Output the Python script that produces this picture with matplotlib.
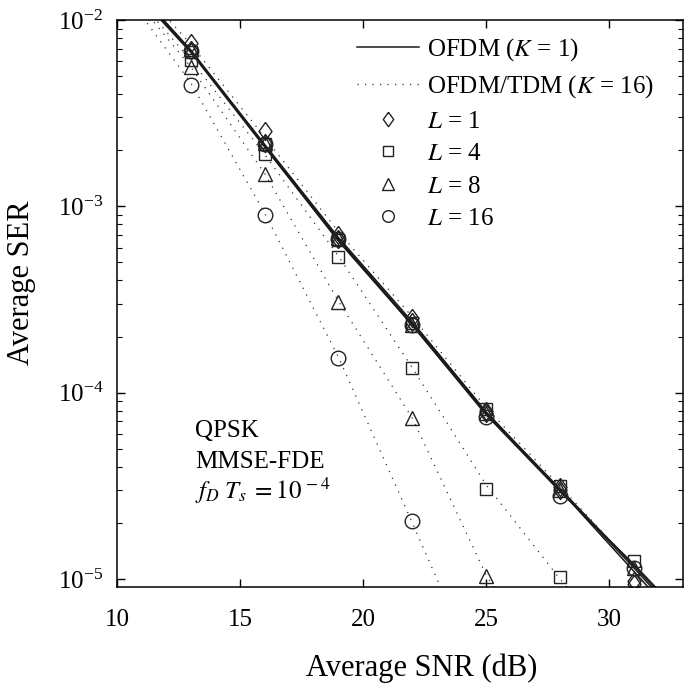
import numpy as np
import matplotlib
matplotlib.use('Agg')
import matplotlib.pyplot as plt

plt.rcParams['font.family'] = 'Liberation Serif'
plt.rcParams['mathtext.fontset'] = 'stix'

# analysis curves (lines), SNR grid in dB
snr_line = [10, 13, 16, 19, 22, 25, 28, 31, 34]
ofdm_l1 = [1.9e-2, 6.9e-3, 2.15e-3, 6.8e-4, 2.4e-4, 7.9e-5, 3.0e-5, 1.1e-5, 4.0e-6]
ofdm_l4 = [1.85e-2, 6.8e-3, 2.1e-3, 6.6e-4, 2.35e-4, 7.8e-5, 3.05e-5, 1.18e-5, 4.4e-6]
ofdm_l8 = [1.85e-2, 6.8e-3, 2.12e-3, 6.7e-4, 2.3e-4, 7.7e-5, 3.0e-5, 1.15e-5, 4.2e-6]
ofdm_l16 = [1.8e-2, 6.7e-3, 2.08e-3, 6.5e-4, 2.3e-4, 7.6e-5, 2.95e-5, 1.2e-5, 4.6e-6]

tdm_l1 = [2.05e-2, 7.4e-3, 2.35e-3, 7.3e-4, 2.55e-4, 8.3e-5, 3.15e-5, 1.17e-5, 4.3e-6]
tdm_l4 = [1.75e-2, 6.1e-3, 1.9e-3, 5.4e-4, 1.36e-4, 3.2e-5, 1.0e-5, 3.6e-6, 1.2e-6]
tdm_l8 = [1.7e-2, 5.6e-3, 1.5e-3, 3.1e-4, 7.3e-5, 1.05e-5, 2.4e-6, 4.0e-7, 6.0e-8]
tdm_l16 = [1.6e-2, 4.6e-3, 9.2e-4, 1.55e-4, 2.0e-5, 2.5e-6, 3.0e-7, 3.0e-8, 3.0e-9]

# simulation points (markers)
snr_sim = [13, 16, 19, 22, 25, 28, 31]
sim_ofdm_l1 = [6.9e-3, 2.2e-3, 6.7e-4, 2.4e-4, 7.8e-5, 3.0e-5, 9.8e-6]
sim_ofdm_l4 = [6.7e-3, 2.15e-3, 6.6e-4, 2.35e-4, 8.2e-5, 3.15e-5, 1.25e-5]
sim_ofdm_l8 = [7.0e-3, 2.2e-3, 6.8e-4, 2.3e-4, 7.8e-5, 3.0e-5, 1.15e-5]
sim_ofdm_l16 = [6.8e-3, 2.15e-3, 6.7e-4, 2.3e-4, 7.4e-5, 2.8e-5, 1.14e-5]

sim_tdm_l1 = [7.5e-3, 2.55e-3, 7.0e-4, 2.5e-4, 8.0e-5, 3.1e-5, 9.4e-6]
sim_tdm_l4 = [6.1e-3, 1.9e-3, 5.35e-4, 1.36e-4, 3.05e-5, 1.02e-5, np.nan]
sim_tdm_l8 = [5.6e-3, 1.5e-3, 3.05e-4, 7.3e-5, 1.04e-5, np.nan, np.nan]
sim_tdm_l16 = [4.5e-3, 9.0e-4, 1.53e-4, 2.04e-5, np.nan, np.nan, np.nan]

diamond = [(0, 1), (0.72, 0), (0, -1), (-0.72, 0), (0, 1)]
markers = [diamond, 's', '^', 'o']
msizes = [13, 8.5, 10.5, 10.5]
labels_L = ['$L$ = 1', '$L$ = 4', '$L$ = 8', '$L$ = 16']

fig = plt.figure(figsize=(6.85, 6.83), dpi=100)
ax = fig.add_axes([0.1708, 0.1406, 0.8262, 0.8301])

dot = (0, (1, 5))
for y in [ofdm_l1, ofdm_l4, ofdm_l8, ofdm_l16]:
    ax.semilogy(snr_line, y, color='#1a1a1a', lw=1.1)
for y in [tdm_l1, tdm_l4, tdm_l8, tdm_l16]:
    ax.semilogy(snr_line, y, color='#333333', lw=0.9, linestyle=dot)

sims_ofdm = [sim_ofdm_l1, sim_ofdm_l4, sim_ofdm_l8, sim_ofdm_l16]
sims_tdm = [sim_tdm_l1, sim_tdm_l4, sim_tdm_l8, sim_tdm_l16]
for i in range(4):
    for y in [sims_ofdm[i], sims_tdm[i]]:
        ax.semilogy(snr_sim, y, linestyle='none', marker=markers[i], ms=msizes[i],
                    mfc='none', mec='#222222', mew=1.0)

# legend handles
h = []
h.append(ax.plot([], [], color='#1a1a1a', lw=1.1, label='OFDM ($K$ = 1)')[0])
h.append(ax.plot([], [], color='#333333', lw=0.9, linestyle=dot, label='OFDM/TDM ($K$ = 16)')[0])
for i in range(4):
    h.append(ax.plot([], [], linestyle='none', marker=markers[i], ms=msizes[i] * 0.8,
                     mfc='none', mec='#222222', mew=1.0, label=labels_L[i])[0])
ax.legend(handles=h, loc='upper left', frameon=False, fontsize=18,
          handlelength=2.5, handletextpad=0.3, labelspacing=0.4,
          borderaxespad=0, bbox_to_anchor=(0.406, 0.9885))

ax.text(0.138, 0.265, 'QPSK', transform=ax.transAxes, fontsize=18)
ax.text(0.138, 0.21, 'MMSE-FDE', transform=ax.transAxes, fontsize=18)
ax.text(0.138, 0.155, r'$f_D\;T_s\;=10^{\,-4}$', transform=ax.transAxes, fontsize=18)

ax.set_xlim(10, 33)
ax.set_ylim(9.05e-6, 1e-2)
ax.set_xticks([10, 15, 20, 25, 30])
ax.set_xlabel('Average SNR (dB)', fontsize=22)
ax.set_ylabel('Average SER', fontsize=22)
ax.xaxis.set_label_coords(0.539, -0.118)
ax.yaxis.set_label_coords(-0.143, 0.536)
ax.tick_params(which='both', direction='in', top=True, right=True, labelsize=18)
ax.tick_params(which='major', length=6, width=1.0)
ax.tick_params(axis='x', which='major', pad=16)
ax.tick_params(axis='y', which='major', pad=10)
ax.tick_params(which='minor', length=3.5, width=0.8)
for s in ax.spines.values():
    s.set_linewidth(1.1)

plt.savefig('out.png', dpi=100)
